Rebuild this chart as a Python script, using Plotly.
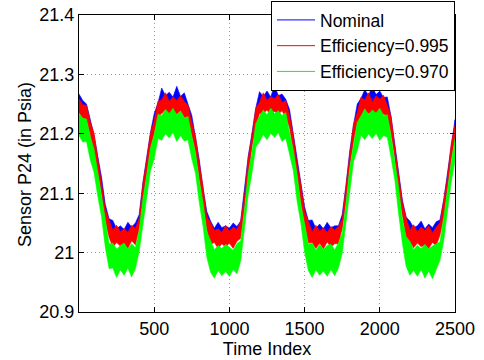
import plotly.graph_objects as go

# Time index samples (every 25 samples)
time_index = list(range(0, 2501, 25))

# ---- Nominal: centre of the noisy trace and its upper / lower noise spread ----
nominal_center = [
    21.251, 21.248, 21.238, 21.218, 21.188, 21.156, 21.116, 21.074, 21.044, 21.034,
    21.032, 21.033, 21.032, 21.033, 21.034, 21.036, 21.058, 21.108, 21.154, 21.191,
    21.221, 21.244, 21.253, 21.254, 21.254, 21.253, 21.253, 21.252, 21.250, 21.241,
    21.219, 21.186, 21.146, 21.101, 21.058, 21.038, 21.033, 21.032, 21.033, 21.032,
    21.033, 21.033, 21.034, 21.046, 21.096, 21.151, 21.194, 21.231, 21.249, 21.253,
    21.254, 21.253, 21.254, 21.253, 21.252, 21.248, 21.228, 21.191, 21.148, 21.106,
    21.066, 21.040, 21.033, 21.032, 21.033, 21.032, 21.033, 21.032, 21.033, 21.036,
    21.056, 21.106, 21.161, 21.206, 21.234, 21.250, 21.253, 21.254, 21.253, 21.254,
    21.253, 21.252, 21.246, 21.221, 21.176, 21.126, 21.081, 21.048, 21.036, 21.033,
    21.032, 21.033, 21.032, 21.033, 21.032, 21.034, 21.046, 21.081, 21.126, 21.176,
    21.211,
]
nominal_up = [
    0.016, 0.008, 0.012, 0.007, 0.010, 0.006, 0.011, 0.007, 0.013, 0.020,
    0.008, 0.012, 0.007, 0.018, 0.009, 0.014, 0.006, 0.010, 0.008, 0.011,
    0.013, 0.008, 0.024, 0.010, 0.016, 0.009, 0.027, 0.011, 0.019, 0.010,
    0.012, 0.008, 0.010, 0.007, 0.011, 0.015, 0.008, 0.019, 0.009, 0.013,
    0.008, 0.017, 0.010, 0.007, 0.009, 0.011, 0.007, 0.012, 0.022, 0.010,
    0.018, 0.009, 0.028, 0.011, 0.015, 0.010, 0.013, 0.008, 0.010, 0.007,
    0.011, 0.014, 0.022, 0.009, 0.015, 0.008, 0.018, 0.010, 0.012, 0.009,
    0.008, 0.007, 0.010, 0.009, 0.016, 0.010, 0.021, 0.011, 0.026, 0.012,
    0.019, 0.009, 0.016, 0.008, 0.007, 0.010, 0.008, 0.012, 0.017, 0.009,
    0.013, 0.020, 0.008, 0.015, 0.010, 0.018, 0.009, 0.008, 0.011, 0.008,
    0.013,
]
nominal_down = [
    0.012, 0.010, 0.013, 0.011, 0.012, 0.009, 0.013, 0.011, 0.012, 0.010,
    0.013, 0.012, 0.011, 0.013, 0.010, 0.012, 0.011, 0.013, 0.012, 0.010,
    0.011, 0.013, 0.010, 0.012, 0.011, 0.013, 0.012, 0.010, 0.012, 0.011,
    0.013, 0.012, 0.010, 0.011, 0.013, 0.012, 0.011, 0.013, 0.010, 0.012,
    0.011, 0.012, 0.013, 0.010, 0.012, 0.011, 0.013, 0.012, 0.010, 0.011,
    0.013, 0.012, 0.011, 0.010, 0.012, 0.013, 0.011, 0.012, 0.010, 0.013,
    0.012, 0.011, 0.013, 0.012, 0.010, 0.011, 0.013, 0.012, 0.011, 0.010,
    0.012, 0.013, 0.011, 0.012, 0.010, 0.013, 0.011, 0.012, 0.013, 0.010,
    0.011, 0.012, 0.013, 0.011, 0.010, 0.012, 0.013, 0.011, 0.012, 0.010,
    0.013, 0.011, 0.012, 0.010, 0.013, 0.012, 0.011, 0.013, 0.012, 0.010,
    0.012,
]

# ---- Efficiency = 0.995 ----
eff995_center = [
    21.245, 21.242, 21.232, 21.212, 21.182, 21.150, 21.110, 21.068, 21.038, 21.028,
    21.026, 21.027, 21.026, 21.027, 21.028, 21.030, 21.052, 21.102, 21.148, 21.185,
    21.215, 21.238, 21.247, 21.248, 21.248, 21.247, 21.247, 21.246, 21.244, 21.235,
    21.213, 21.180, 21.140, 21.095, 21.052, 21.032, 21.027, 21.026, 21.027, 21.026,
    21.027, 21.027, 21.028, 21.040, 21.090, 21.145, 21.188, 21.225, 21.243, 21.247,
    21.248, 21.247, 21.248, 21.247, 21.246, 21.242, 21.222, 21.185, 21.142, 21.100,
    21.060, 21.034, 21.027, 21.026, 21.027, 21.026, 21.027, 21.026, 21.027, 21.030,
    21.050, 21.100, 21.155, 21.200, 21.228, 21.244, 21.247, 21.248, 21.247, 21.248,
    21.247, 21.246, 21.240, 21.215, 21.170, 21.120, 21.075, 21.042, 21.030, 21.027,
    21.026, 21.027, 21.026, 21.027, 21.026, 21.028, 21.040, 21.075, 21.120, 21.170,
    21.205,
]
eff995_up = [
    0.014, 0.007, 0.016, 0.008, 0.019, 0.009, 0.013, 0.006, 0.017, 0.010,
    0.020, 0.008, 0.015, 0.007, 0.018, 0.011, 0.006, 0.014, 0.009, 0.016,
    0.008, 0.017, 0.010, 0.021, 0.007, 0.015, 0.009, 0.018, 0.011, 0.013,
    0.007, 0.015, 0.009, 0.016, 0.008, 0.019, 0.010, 0.014, 0.007, 0.020,
    0.009, 0.016, 0.011, 0.013, 0.006, 0.015, 0.008, 0.018, 0.010, 0.022,
    0.008, 0.016, 0.011, 0.019, 0.007, 0.014, 0.009, 0.012, 0.008, 0.015,
    0.010, 0.017, 0.008, 0.020, 0.009, 0.016, 0.007, 0.018, 0.011, 0.014,
    0.006, 0.013, 0.009, 0.016, 0.008, 0.018, 0.010, 0.021, 0.007, 0.016,
    0.011, 0.019, 0.008, 0.014, 0.007, 0.015, 0.010, 0.017, 0.008, 0.020,
    0.009, 0.016, 0.011, 0.018, 0.007, 0.015, 0.010, 0.013, 0.008, 0.014,
    0.010,
]
eff995_down = [
    0.010, 0.016, 0.008, 0.014, 0.011, 0.017, 0.009, 0.015, 0.012, 0.019,
    0.009, 0.016, 0.011, 0.020, 0.008, 0.017, 0.012, 0.009, 0.014, 0.008,
    0.015, 0.009, 0.013, 0.008, 0.017, 0.010, 0.014, 0.007, 0.016, 0.011,
    0.015, 0.009, 0.014, 0.008, 0.013, 0.018, 0.010, 0.019, 0.012, 0.017,
    0.011, 0.020, 0.009, 0.016, 0.010, 0.014, 0.008, 0.015, 0.009, 0.013,
    0.008, 0.016, 0.010, 0.014, 0.007, 0.015, 0.011, 0.013, 0.009, 0.016,
    0.012, 0.018, 0.010, 0.019, 0.011, 0.020, 0.009, 0.017, 0.012, 0.015,
    0.010, 0.014, 0.008, 0.013, 0.009, 0.015, 0.008, 0.014, 0.010, 0.016,
    0.009, 0.013, 0.010, 0.015, 0.008, 0.014, 0.011, 0.018, 0.012, 0.019,
    0.010, 0.017, 0.013, 0.020, 0.009, 0.016, 0.011, 0.015, 0.009, 0.012,
    0.014,
]

# ---- Efficiency = 0.970 ----
eff970_center = [
    21.213, 21.210, 21.200, 21.177, 21.147, 21.115, 21.075, 21.032, 21.000, 20.990,
    20.988, 20.989, 20.988, 20.989, 20.990, 20.992, 21.016, 21.067, 21.113, 21.150,
    21.180, 21.206, 21.215, 21.216, 21.216, 21.215, 21.215, 21.214, 21.212, 21.203,
    21.178, 21.145, 21.105, 21.059, 21.016, 20.994, 20.989, 20.988, 20.989, 20.988,
    20.989, 20.989, 20.990, 21.002, 21.054, 21.110, 21.153, 21.190, 21.211, 21.215,
    21.216, 21.215, 21.216, 21.215, 21.214, 21.210, 21.187, 21.150, 21.107, 21.064,
    21.024, 20.996, 20.989, 20.988, 20.989, 20.988, 20.989, 20.988, 20.989, 20.992,
    21.014, 21.064, 21.120, 21.165, 21.193, 21.212, 21.215, 21.216, 21.215, 21.216,
    21.215, 21.214, 21.208, 21.180, 21.135, 21.085, 21.039, 21.004, 20.992, 20.989,
    20.988, 20.989, 20.988, 20.989, 20.988, 20.990, 21.002, 21.039, 21.085, 21.135,
    21.170,
]
eff970_up = [
    0.022, 0.016, 0.025, 0.018, 0.027, 0.017, 0.020, 0.024, 0.015, 0.026,
    0.018, 0.023, 0.028, 0.017, 0.025, 0.016, 0.021, 0.024, 0.017, 0.026,
    0.019, 0.027, 0.016, 0.025, 0.018, 0.028, 0.017, 0.024, 0.015, 0.026,
    0.018, 0.023, 0.016, 0.025, 0.019, 0.027, 0.016, 0.024, 0.018, 0.026,
    0.020, 0.015, 0.025, 0.018, 0.017, 0.024, 0.016, 0.027, 0.019, 0.025,
    0.016, 0.028, 0.018, 0.024, 0.017, 0.026, 0.015, 0.023, 0.025, 0.017,
    0.024, 0.018, 0.027, 0.016, 0.025, 0.017, 0.023, 0.026, 0.016, 0.024,
    0.019, 0.016, 0.023, 0.017, 0.026, 0.018, 0.027, 0.016, 0.025, 0.019,
    0.028, 0.017, 0.024, 0.016, 0.020, 0.025, 0.017, 0.023, 0.027, 0.016,
    0.024, 0.018, 0.026, 0.017, 0.023, 0.025, 0.016, 0.020, 0.024, 0.017,
    0.022,
]
eff970_down = [
    0.016, 0.024, 0.013, 0.021, 0.012, 0.020, 0.015, 0.023, 0.027, 0.016,
    0.030, 0.018, 0.026, 0.015, 0.031, 0.019, 0.014, 0.017, 0.021, 0.012,
    0.022, 0.014, 0.026, 0.016, 0.023, 0.013, 0.028, 0.017, 0.024, 0.013,
    0.020, 0.012, 0.021, 0.015, 0.024, 0.027, 0.032, 0.018, 0.028, 0.020,
    0.029, 0.017, 0.026, 0.016, 0.014, 0.012, 0.019, 0.013, 0.024, 0.016,
    0.026, 0.014, 0.022, 0.013, 0.027, 0.017, 0.019, 0.012, 0.020, 0.014,
    0.023, 0.026, 0.031, 0.017, 0.027, 0.019, 0.029, 0.016, 0.028, 0.018,
    0.015, 0.013, 0.020, 0.012, 0.021, 0.014, 0.025, 0.016, 0.023, 0.015,
    0.026, 0.017, 0.014, 0.020, 0.013, 0.019, 0.023, 0.027, 0.030, 0.019,
    0.028, 0.017, 0.031, 0.020, 0.032, 0.018, 0.015, 0.019, 0.013, 0.016,
    0.015,
]

series_names = ["Nominal", "Efficiency=0.995", "Efficiency=0.970"]
series_colors = ["#0000FF", "#FF0000", "#00FF00"]

x_ticks = [500, 1000, 1500, 2000, 2500]
y_ticks = [20.9, 21.0, 21.1, 21.2, 21.3, 21.4]
y_tick_labels = ["20.9", "21", "21.1", "21.2", "21.3", "21.4"]

FONT = "Liberation Sans, Arial, Helvetica, sans-serif"

fig = go.Figure()
series = [
    (nominal_center, nominal_up, nominal_down),
    (eff995_center, eff995_up, eff995_down),
    (eff970_center, eff970_up, eff970_down),
]
for name, col, (cen, up, dn) in zip(series_names, series_colors, series):
    upper = [c + u for c, u in zip(cen, up)]
    lower = [c - d for c, d in zip(cen, dn)]
    fig.add_trace(go.Scatter(
        x=time_index + time_index[::-1],
        y=upper + lower[::-1],
        mode="lines", fill="toself", fillcolor=col,
        line=dict(color=col, width=0.6), name=name,
        showlegend=False, hoverinfo="skip",
    ))
# legend entries drawn with thin lines
for name, col in zip(series_names, series_colors):
    fig.add_trace(go.Scatter(
        x=[None], y=[None], mode="lines", name=name,
        line=dict(color=col, width=1), showlegend=True,
    ))

axis_common = dict(
    showline=True, linecolor="black", linewidth=1, mirror="ticks",
    ticks="inside", ticklen=5, tickcolor="black", tickwidth=1,
    showgrid=True, gridcolor="#9a9a9a", griddash="1px,3px", gridwidth=1,
    zeroline=False, tickfont=dict(size=18, color="black", family=FONT),
)

fig.update_xaxes(
    range=[0, 2500], tickvals=x_ticks, ticktext=[str(v) for v in x_ticks],
    title=dict(text="Time Index", font=dict(size=18, color="black", family=FONT), standoff=0),
    **axis_common,
)
fig.update_yaxes(
    range=[20.9, 21.4], tickvals=y_ticks, ticktext=y_tick_labels,
    **axis_common,
)

fig.add_annotation(
    text="Sensor P24 (in Psia)", textangle=-90,
    xref="paper", yref="paper", x=-0.1436, y=0.495,
    xanchor="center", yanchor="middle", showarrow=False,
    font=dict(size=18, color="black", family=FONT),
)

fig.update_layout(
    width=484, height=360,
    margin=dict(l=79, r=29, t=15, b=48, autoexpand=False),
    paper_bgcolor="white", plot_bgcolor="white",
    font=dict(family=FONT, size=18, color="black"),
    legend=dict(
        x=1.0, y=1.047, xanchor="right", yanchor="top",
        bgcolor="white", bordercolor="black", borderwidth=1,
        font=dict(size=17.5, color="black", family=FONT),
        tracegroupgap=0, itemwidth=38,
    ),
    showlegend=True,
)

fig.write_html(
    "out.html",
    config={"displayModeBar": False},
    post_script="document.body.style.margin='0px';",
)
